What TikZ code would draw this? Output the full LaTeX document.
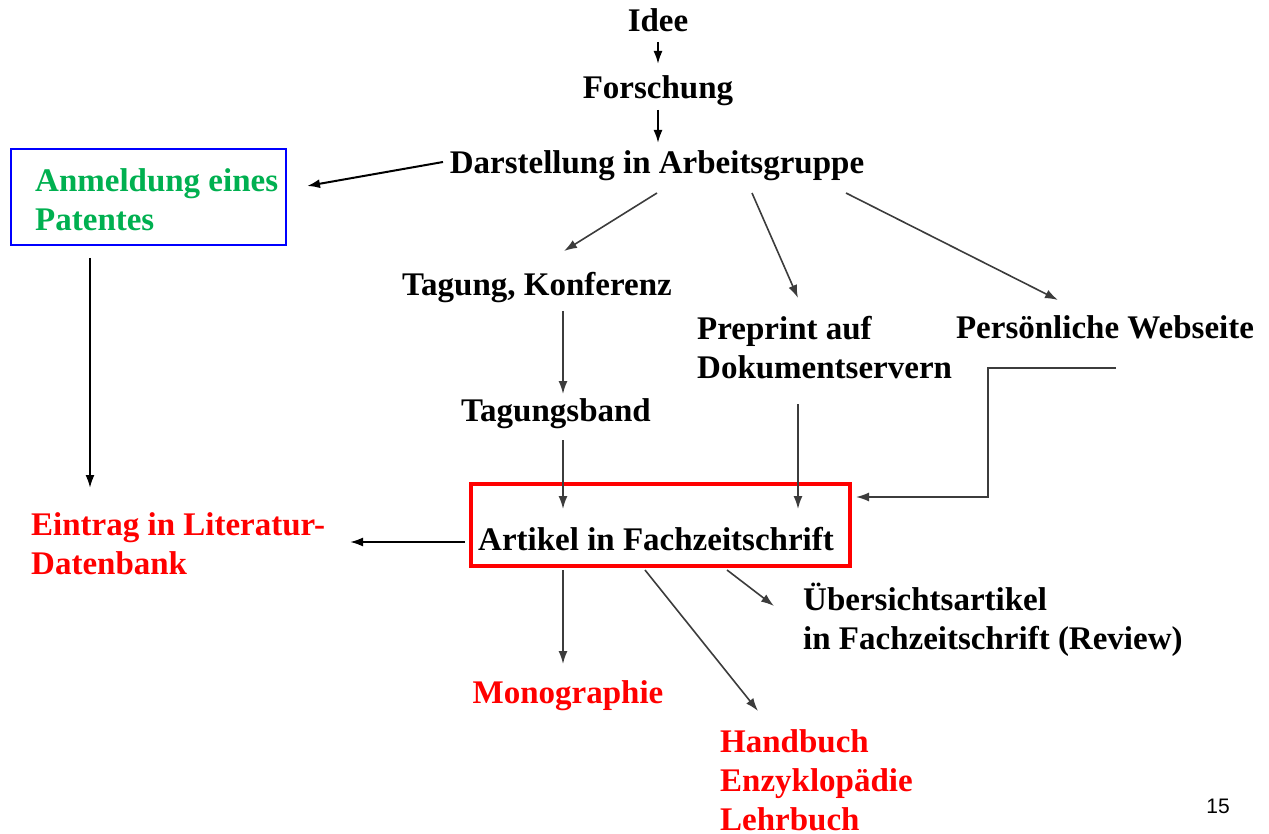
\documentclass[tikz,border=0pt]{standalone}
\usepackage{fontspec}
\setmainfont{Liberation Serif}
\setsansfont{Liberation Sans}
\usetikzlibrary{arrows.meta}
\definecolor{pgreen}{RGB}{0,176,80}
\definecolor{pred}{RGB}{255,0,0}
\definecolor{pblue}{RGB}{0,0,255}
\definecolor{lgray}{RGB}{60,60,60}
\tikzset{
  lbl/.style={font=\bfseries\fontsize{33}{39}\selectfont, inner sep=0pt, anchor=base},
  lblL/.style={lbl, align=left, anchor=base west},
  conn/.style={draw=lgray, line width=1.6pt, -{Latex[length=13pt,width=9pt]}},
  connk/.style={draw=black, line width=2pt, -{Latex[length=13pt,width=9pt]}},
}
\begin{document}
\begin{tikzpicture}[x=1pt,y=-1pt]
\useasboundingbox (0,0) rectangle (1269,834);
% nodes (multi-line nodes: base = baseline of last line)
\node[lbl] (idee) at (658,32) {Idee};
\node[lbl] (forsch) at (658,99) {Forschung};
\node[lbl] (darst) at (657,174) {Darstellung in Arbeitsgruppe};
\node[draw=pblue, line width=1.5pt, minimum width=275pt, minimum height=96pt, inner sep=0pt] (patbox) at (148.5,197) {};
\node[lblL, text=pgreen] (patent) at (35,231) {Anmeldung eines\\Patentes};
\node[lbl] (tagung) at (537,296) {Tagung, Konferenz};
\node[lblL] (preprint) at (697,378) {Preprint auf\\Dokumentservern};
\node[lbl] (webseite) at (1105,338) {Persönliche Webseite};
\node[lbl] (band) at (556,421) {Tagungsband};
\node[draw=pred, line width=4pt, minimum width=379pt, minimum height=82pt, inner sep=0pt] (artbox) at (660.5,525) {};
\node[lbl] (artikel) at (656,550) {Artikel in Fachzeitschrift};
\node[lblL, text=pred] (eintrag) at (31,574) {Eintrag in Literatur-\\Datenbank};
\node[lblL] (review) at (803,649) {Übersichtsartikel\\in Fachzeitschrift (Review)};
\node[lbl, text=pred] (mono) at (568,703) {Monographie};
\node[lblL, text=pred] (hand) at (720,830) {Handbuch\\Enzyklopädie\\Lehrbuch};
\node[font=\sffamily\fontsize{21}{25}\selectfont, inner sep=0pt] (page) at (1218,806) {15};
% connector endpoints
\coordinate (a1) at (658,42);   \coordinate (b1) at (658,64);
\coordinate (a2) at (658,110);  \coordinate (b2) at (658,143);
\coordinate (a3) at (443,162);  \coordinate (b3) at (307,186);
\coordinate (a4) at (657,193);  \coordinate (b4) at (564,251);
\coordinate (a5) at (752,193);  \coordinate (b5) at (798,298);
\coordinate (a6) at (846,193);  \coordinate (b6) at (1058,300);
\coordinate (a7) at (563,311);  \coordinate (b7) at (563,394);
\coordinate (a8) at (563,440);  \coordinate (b8) at (563,509);
\coordinate (a9) at (798,404);  \coordinate (b9) at (798,509);
\coordinate (a10) at (1116,368); \coordinate (k10) at (988,368); \coordinate (b10) at (856,497);
\coordinate (a11) at (90,258);  \coordinate (b11) at (90,488);
\coordinate (a12) at (465,542); \coordinate (b12) at (350,542);
\coordinate (a13) at (563,570); \coordinate (b13) at (563,664);
\coordinate (a14) at (645,570); \coordinate (b14) at (758,711);
\coordinate (a15) at (727,570); \coordinate (b15) at (774,606);
% connectors
\draw[connk] (a1) -- (b1);
\draw[connk] (a2) -- (b2);
\draw[connk] (a3) -- (b3);
\draw[conn] (a4) -- (b4);
\draw[conn] (a5) -- (b5);
\draw[conn] (a6) -- (b6);
\draw[conn] (a7) -- (b7);
\draw[conn] (a8) -- (b8);
\draw[conn] (a9) -- (b9);
\draw[conn] (a10) -- (k10) |- (b10);
\draw[connk] (a11) -- (b11);
\draw[connk] (a12) -- (b12);
\draw[conn] (a13) -- (b13);
\draw[conn] (a14) -- (b14);
\draw[conn] (a15) -- (b15);
\end{tikzpicture}
\end{document}
